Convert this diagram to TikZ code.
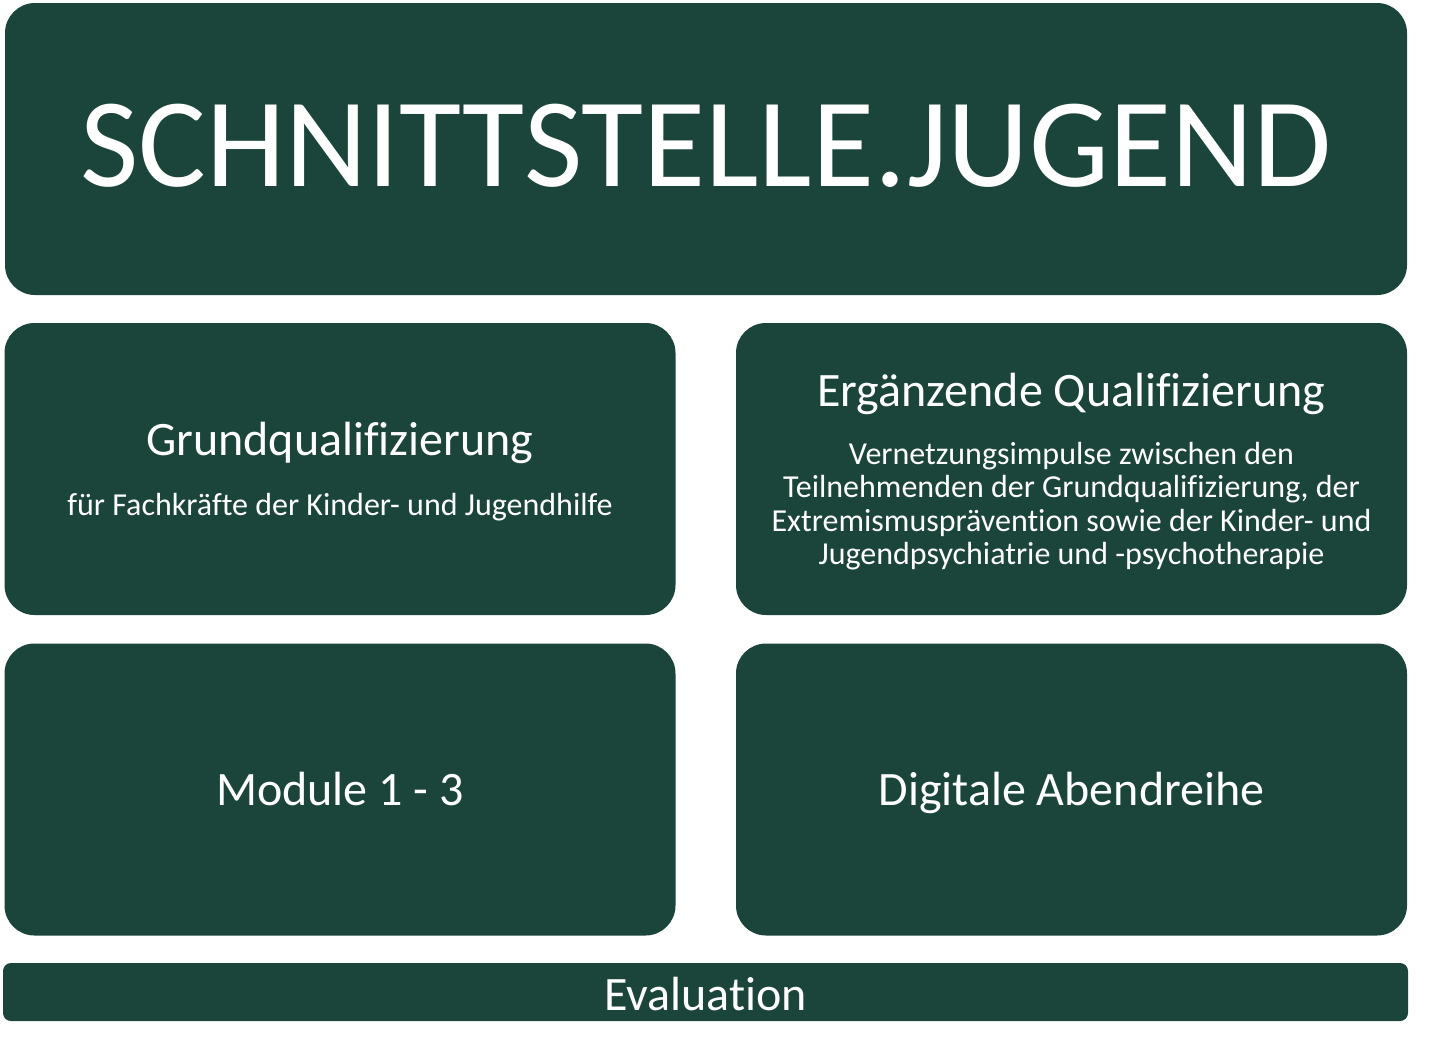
\documentclass[tikz,border=0pt]{standalone}
\usepackage{fontspec}
\setmainfont{Carlito}[Ligatures=NoCommon]
\definecolor{schnittgreen}{RGB}{27,69,59}
\begin{document}
\begin{tikzpicture}[
    x=0.5pt, y=-0.5pt,
    tile/.style={fill=schnittgreen, draw=none, rounded corners=15pt,
                 text=white, align=center, inner sep=0pt,
                 minimum height=146pt, font=\fontsize{24}{28.8}\selectfont},
    half/.style={tile, minimum width=335.5pt},
    txt/.style={text=white, align=center, inner sep=0pt,
                font=\fontsize{16}{16.75}\selectfont}
  ]
  \useasboundingbox (0,0) rectangle (1440,1051);

  % Title
  \node[tile, minimum width=701pt, font=\fontsize{63.5}{76}\selectfont]
    (title) at (706,149) {\raisebox{4pt}{SCHNITTSTELLE.JUGEND}};

  % Middle row
  \node[half] (grund) at (340,469) {};
  \node[txt, yshift=-1.5pt] (grundtxt) at (grund.center)
    {{\fontsize{24}{28.8}\selectfont Grundqualifizierung}\\[13.25pt]
     für Fachkräfte der Kinder- und Jugendhilfe};
  \node[half] (ergaenz) at (1071.5,469) {};
  \node[txt, yshift=-1.5pt] (ergaenztxt) at (ergaenz.center)
    {{\fontsize{24}{28.8}\selectfont Ergänzende Qualifizierung}\\[12pt]
     Vernetzungsimpulse zwischen den\\
     Teilnehmenden der Grundqualifizierung, der\\
     Extremismusprävention sowie der Kinder- und\\
     Jugendpsychiatrie und -psychotherapie};

  % Bottom row
  \node[half, text height=18pt, text depth=2.5pt]
    (module) at (340,789.5) {Module 1 - 3};
  \node[half, text height=18pt, text depth=2.5pt]
    (abend) at (1071.5,789.5) {Digitale Abendreihe};

  % Evaluation bar
  \node[tile, rounded corners=4pt, minimum width=702.5pt,
        minimum height=29pt, text height=20pt, text depth=2pt]
    (eval) at (705.5,992) {Evaluation};
\end{tikzpicture}
\end{document}
